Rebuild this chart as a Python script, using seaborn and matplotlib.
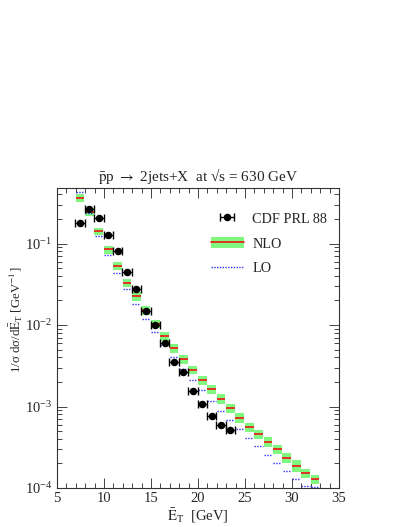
import numpy as np
import pandas as pd
import matplotlib
matplotlib.use("Agg")
import matplotlib.pyplot as plt
import seaborn as sns
from matplotlib.patches import Patch
from matplotlib.lines import Line2D
from matplotlib.legend_handler import HandlerTuple
from matplotlib.ticker import LogLocator, MultipleLocator

# ---- data ----
data_et = [7.45, 8.45, 9.45, 10.45, 11.45, 12.45, 13.45, 14.45, 15.45, 16.45,
           17.45, 18.45, 19.45, 20.45, 21.45, 22.45, 23.45]
data_val = [0.179, 0.265, 0.206, 0.129, 0.080, 0.0447, 0.028, 0.0149, 0.0099,
            0.0060, 0.00356, 0.00265, 0.00153, 0.00106, 0.00076, 0.000598, 0.000510]

theory_et = [7.45, 8.45, 9.45, 10.45, 11.45, 12.45, 13.45, 14.45, 15.45, 16.45,
             17.45, 18.45, 19.45, 20.45, 21.45, 22.45, 23.45, 24.45, 25.45, 26.45,
             27.45, 28.45, 29.45, 30.45, 31.45, 32.45]
nlo_val = [0.36, 0.244, 0.141, 0.0845, 0.0528, 0.0331, 0.0227, 0.0152, 0.0103, 0.00728,
           0.0052, 0.00382, 0.00283, 0.0021, 0.00163, 0.00125, 0.00095, 0.00073, 0.00056,
           0.00046, 0.00037, 0.000297, 0.000235, 0.000187, 0.000151, 0.000128]
nlo_relerr = [0.11, 0.11, 0.11, 0.11, 0.11, 0.11, 0.12, 0.12, 0.12, 0.12,
              0.12, 0.12, 0.12, 0.12, 0.12, 0.13, 0.13, 0.13, 0.13, 0.13,
              0.13, 0.13, 0.13, 0.17, 0.13, 0.13]
lo_val = [0.434, 0.237, 0.125, 0.0728, 0.0439, 0.028, 0.0179, 0.0118, 0.00815, 0.0057,
          0.0040, 0.00285, 0.00211, 0.00158, 0.00118, 0.000886, 0.00068, 0.000525, 0.00041,
          0.000328, 0.000257, 0.000203, 0.000161, 0.000129, 0.000107, 0.000102]

title = r"$\bar{\rm p}$p $\rightarrow$ 2jets+X  at √s = 630 GeV"
xlabel = r"$\bar{\rm E}_{\rm T}$  [GeV]"
ylabel = r"1/σ dσ/d$\bar{\rm E}_{\rm T}$ [GeV$^{-1}$]"
legend_labels = ["CDF PRL 88", "NLO", "LO"]

# ---- style ----
sns.set_theme(style="ticks")
plt.rcParams["font.family"] = ["Liberation Serif", "DejaVu Serif"]
plt.rcParams["mathtext.fontset"] = "stix"
plt.rcParams["axes.linewidth"] = 0.8
plt.rcParams["hatch.color"] = "#4fd84f"
plt.rcParams["hatch.linewidth"] = 0.8

fig = plt.figure(figsize=(4.07, 5.27), dpi=100)
ax = fig.add_axes([57 / 407, 1 - 488 / 527, 282 / 407, 300 / 527])

df_th = pd.DataFrame({"et": theory_et, "nlo": nlo_val, "err": nlo_relerr, "lo": lo_val})
df_th["lo_band"] = df_th["nlo"] * (1 - df_th["err"])
df_th["hi_band"] = df_th["nlo"] * (1 + df_th["err"])
df_data = pd.DataFrame({"et": data_et, "val": data_val})

w = 0.95
green = "#80f880"
red = "#e8231c"
blue = "#3030ff"
# NLO band boxes
ax.bar(df_th["et"], df_th["hi_band"] - df_th["lo_band"], bottom=df_th["lo_band"],
       width=w, color=green, edgecolor="none", hatch="....", zorder=2)
# NLO central red line
ax.hlines(df_th["nlo"], df_th["et"] - w / 2, df_th["et"] + w / 2, color=red,
          lw=1.3, zorder=3)
# LO dotted blue
ax.hlines(df_th["lo"], df_th["et"] - 0.45, df_th["et"] + 0.42, color=blue,
          lw=1.0, linestyles=(0, (1, 1)), zorder=3)

# data
eb = ax.errorbar(df_data["et"], df_data["val"], xerr=0.5, fmt="o", color="black",
                 markersize=4.4, elinewidth=1.0, capsize=3, capthick=1.0, zorder=4)
sns.scatterplot(data=df_data, x="et", y="val", ax=ax, color="black", s=19,
                edgecolor="black", linewidth=0, zorder=5, legend=False)

ax.set_yscale("log")
ax.set_xlim(5, 35)
ax.set_ylim(1e-4, 0.48)
ax.xaxis.set_major_locator(MultipleLocator(5))
ax.xaxis.set_minor_locator(MultipleLocator(1))
ax.yaxis.set_major_locator(LogLocator(base=10))
ax.yaxis.set_minor_locator(LogLocator(base=10, subs=np.arange(2, 10)))
ax.tick_params(which="both", direction="in", top=True, right=True, labelsize=10.5,
               color="#444444", width=0.7)
ax.tick_params(which="major", length=7)
ax.tick_params(which="minor", length=3.5)
ax.tick_params(axis="x", pad=3)
for sp in ax.spines.values():
    sp.set_color("#333333")

ax.set_xlabel(xlabel, fontsize=10.5, labelpad=1)
ax.set_ylabel(ylabel, fontsize=9.3, ha="center", va="center")
ax.yaxis.set_label_coords(-0.147, 0.56)
ax.set_title(title, fontsize=11, pad=5)

# legend
nlo_patch = Patch(facecolor=green, edgecolor="none", hatch="....")
nlo_line = Line2D([], [], color=red, lw=1.3)
lo_line = Line2D([], [], color=blue, lw=1.0, linestyle=(0, (1, 1)))
leg = ax.legend([eb, (nlo_patch, nlo_line), lo_line], legend_labels,
                handler_map={tuple: HandlerTuple(ndivide=1, pad=0)},
                loc="upper left", bbox_to_anchor=(0.5, 0.962), frameon=False,
                fontsize=10.3, handlelength=2.3, handleheight=0.8, labelspacing=0.8,
                handletextpad=0.6)

fig.savefig("out.png", dpi=100)
